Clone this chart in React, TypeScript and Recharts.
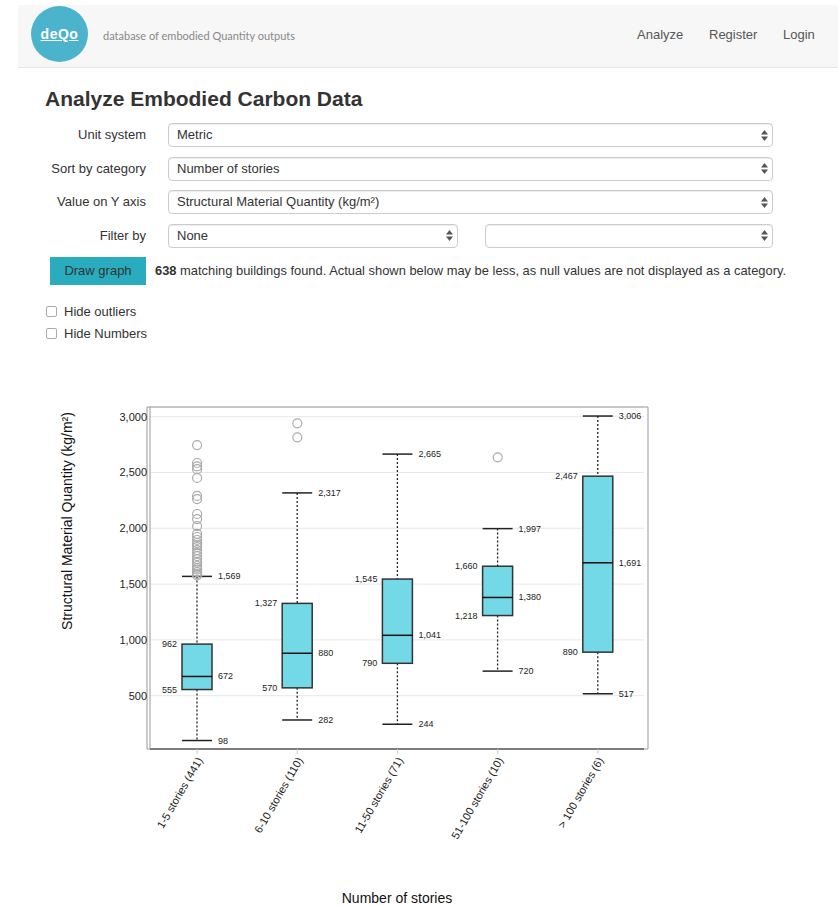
import React from "react";
import {
  Bar,
  CartesianGrid,
  ComposedChart,
  ReferenceArea,
  Scatter,
  XAxis,
  YAxis,
} from "recharts";

const FONT = '"Liberation Sans", Arial, Helvetica, sans-serif';

// box plot stats
const categories = [
  "1-5 stories (441)",
  "6-10 stories (110)",
  "11-50 stories (71)",
  "51-100 stories (10)",
  "> 100 stories (6)",
];
const whiskerLow = [98, 282, 244, 720, 517];
const quartile1 = [555, 570, 790, 1218, 890];
const medians = [672, 880, 1041, 1380, 1691];
const quartile3 = [962, 1327, 1545, 1660, 2467];
const whiskerHigh = [1569, 2317, 2665, 1997, 3006];

const outliers1to5 = [
  2746, 2585, 2555, 2530, 2451, 2290, 2262, 2128, 2083, 2020, 1950, 1922,
  1895, 1868, 1850, 1832, 1805, 1778, 1750, 1724, 1700, 1689, 1662, 1644,
  1630, 1608, 1590, 1578,
];
const outliers6to10 = [2941, 2815];
const outliers51to100 = [2636];

const yTicks = [500, 1000, 1500, 2000, 2500, 3000];
const Y_MIN = 22;
const Y_MAX = 3087;

const boxData = categories.map((name, i) => ({
  name,
  min: whiskerLow[i],
  q1: quartile1[i],
  median: medians[i],
  q3: quartile3[i],
  max: whiskerHigh[i],
}));

const outlierData = [
  ...outliers1to5.map((value) => ({ name: categories[0], value })),
  ...outliers6to10.map((value) => ({ name: categories[1], value })),
  ...outliers51to100.map((value) => ({ name: categories[3], value })),
];

const fmt = (v: number) => v.toLocaleString("en-US");

function BoxShape(props: any) {
  const { x, y, width, height } = props;
  const d = props.payload ?? boxData[props.index];
  const top = Math.min(y, y + height);
  const h = Math.abs(height);
  const py = (v: number) => top + ((d.max - v) / (d.max - d.min)) * h;
  const cx = x + width / 2;
  const right = x + width;
  const lbl = { fontSize: 9, fill: "#222", fontFamily: FONT };
  return (
    <g>
      <line x1={cx} x2={cx} y1={py(d.max)} y2={py(d.q3)} stroke="#222" strokeWidth={1.3} strokeDasharray="2 2" />
      <line x1={cx} x2={cx} y1={py(d.q1)} y2={py(d.min)} stroke="#222" strokeWidth={1.3} strokeDasharray="2 2" />
      <line x1={x} x2={right} y1={py(d.max)} y2={py(d.max)} stroke="#222" strokeWidth={1.5} />
      <line x1={x} x2={right} y1={py(d.min)} y2={py(d.min)} stroke="#222" strokeWidth={1.5} />
      <rect
        x={x}
        y={py(d.q3)}
        width={width}
        height={py(d.q1) - py(d.q3)}
        fill="#74d9e6"
        stroke="#333"
        strokeWidth={1.5}
      />
      <line x1={x} x2={right} y1={py(d.median)} y2={py(d.median)} stroke="#111" strokeWidth={1.5} />
      <text x={right + 6} y={py(d.max)} dy={3} {...lbl}>{fmt(d.max)}</text>
      <text x={right + 6} y={py(d.median)} dy={3} {...lbl}>{fmt(d.median)}</text>
      <text x={right + 6} y={py(d.min)} dy={3} {...lbl}>{fmt(d.min)}</text>
      <text x={x - 5} y={py(d.q3)} dy={3} textAnchor="end" {...lbl}>{fmt(d.q3)}</text>
      <text x={x - 5} y={py(d.q1)} dy={3} textAnchor="end" {...lbl}>{fmt(d.q1)}</text>
    </g>
  );
}

const OutlierDot = (p: any) => (
  <circle cx={p.cx} cy={p.cy} r={4.5} fill="none" stroke="#aaa" strokeWidth={1.2} />
);

const AngledTick = ({ x, y, payload }: any) => (
  <g transform={`translate(${x + 6},${y + 4})`}>
    <text textAnchor="end" transform="rotate(-60)" fontSize={11} fill="#222" fontFamily={FONT}>
      {payload.value}
    </text>
  </g>
);

const XTitle = () => (
  <text x={397} y={903} textAnchor="middle" fontSize={14} fill="#111" fontFamily={FONT}>
    Number of stories
  </text>
);

const YTitle = () => (
  <text
    x={72}
    y={521}
    textAnchor="middle"
    transform="rotate(-90, 72, 521)"
    fontSize={14}
    fill="#111"
    fontFamily={FONT}
  >
    Structural Material Quantity (kg/m²)
  </text>
);

function Txt({ x, y, size = 13, children, style }: any) {
  return (
    <div
      style={{
        position: "absolute",
        left: x,
        top: y - size * 0.6,
        lineHeight: `${size * 1.2}px`,
        fontSize: size,
        whiteSpace: "nowrap",
        ...style,
      }}
    >
      {children}
    </div>
  );
}

function Arrows({ x, y }: any) {
  return (
    <svg width={7} height={11} style={{ position: "absolute", left: x, top: y - 5.5 }}>
      <path d="M0 4.5 L3.5 0 L7 4.5 Z" fill="#555" />
      <path d="M0 6.5 L3.5 11 L7 6.5 Z" fill="#555" />
    </svg>
  );
}

function SelectBox({ left, top, width, text }: any) {
  return (
    <div
      style={{
        position: "absolute",
        left,
        top,
        width,
        height: 24,
        boxSizing: "border-box",
        border: "1px solid #ccc",
        borderRadius: 4,
        background: "#fff",
        boxShadow: "inset 0 1px 1px rgba(0,0,0,0.075)",
      }}
    >
      <div style={{ position: "absolute", left: 8, top: 0, lineHeight: "22px", fontSize: 13 }}>{text}</div>
      <Arrows x={width - 13} y={11} />
    </div>
  );
}

const formRows = [
  { label: "Unit system", value: "Metric", top: 123 },
  { label: "Sort by category", value: "Number of stories", top: 156.5 },
  { label: "Value on Y axis", value: "Structural Material Quantity (kg/m²)", top: 190 },
];

export default function App() {
  return (
    <div
      style={{
        position: "absolute",
        left: 0,
        top: 0,
        width: 838,
        height: 905,
        background: "#fff",
        fontFamily: FONT,
        color: "#333",
        overflow: "hidden",
      }}
    >
      {/* navbar */}
      <div
        style={{
          position: "absolute",
          left: 18,
          top: 5,
          width: 820,
          height: 62,
          background: "#f7f7f7",
          borderBottom: "1px solid #e7e7e7",
        }}
      />
      <div
        style={{
          position: "absolute",
          left: 31,
          top: 6,
          width: 57,
          height: 56,
          borderRadius: "50%",
          background: "#4cb3cc",
          color: "#fff",
          fontWeight: "bold",
          fontSize: 14,
          lineHeight: "56px",
          textAlign: "center",
          textDecoration: "underline",
          letterSpacing: 0.5,
        }}
      >
        deQo
      </div>
      <Txt x={103} y={36} size={11} style={{ fontFamily: "Lato", color: "#888" }}>
        database of embodied Quantity outputs
      </Txt>
      <Txt x={637} y={35} style={{ color: "#555" }}>Analyze</Txt>
      <Txt x={709} y={35} style={{ color: "#555" }}>Register</Txt>
      <Txt x={783} y={35} style={{ color: "#555" }}>Login</Txt>

      {/* form */}
      <Txt x={45} y={99} size={21} style={{ fontWeight: "bold" }}>
        Analyze Embodied Carbon Data
      </Txt>
      {formRows.map((r) => (
        <React.Fragment key={r.label}>
          <Txt x={0} y={r.top + 12} style={{ width: 146, textAlign: "right" }}>{r.label}</Txt>
          <SelectBox left={168} top={r.top} width={605} text={r.value} />
        </React.Fragment>
      ))}
      <Txt x={0} y={235.5} style={{ width: 146, textAlign: "right" }}>Filter by</Txt>
      <SelectBox left={168} top={223.5} width={290} text="None" />
      <SelectBox left={485} top={223.5} width={288} text="" />

      <div
        style={{
          position: "absolute",
          left: 50,
          top: 257,
          width: 96,
          height: 28,
          background: "#2aacbf",
          fontSize: 13,
          lineHeight: "28px",
          textAlign: "center",
          color: "#333",
        }}
      >
        Draw graph
      </div>
      <Txt x={155} y={271} size={12.9}>
        <b>638</b> matching buildings found. Actual shown below may be less, as null values are not displayed as a category.
      </Txt>

      {["Hide outliers", "Hide Numbers"].map((t, i) => (
        <React.Fragment key={t}>
          <div
            style={{
              position: "absolute",
              left: 46,
              top: 306 + i * 22,
              width: 11,
              height: 11,
              boxSizing: "border-box",
              border: "1px solid #aaa",
              borderRadius: 2,
              background: "#fff",
            }}
          />
          <Txt x={64} y={311.5 + i * 22}>{t}</Txt>
        </React.Fragment>
      ))}

      {/* chart */}
      <div style={{ position: "absolute", left: 0, top: 0 }}>
        <ComposedChart
          width={700}
          height={905}
          data={boxData}
          margin={{ top: 407, right: 56, bottom: 6, left: 110 }}
        >
          <CartesianGrid vertical={false} stroke="#e9e9e9" />
          <ReferenceArea y1={Y_MIN} y2={Y_MAX} fill="none" stroke="#999" strokeWidth={1} />
          <XAxis
            dataKey="name"
            type="category"
            allowDuplicatedCategory={false}
            padding={{ left: -3, right: -4 }}
            height={150}
            axisLine={{ stroke: "#333", strokeWidth: 1.2 }}
            tickLine={{ stroke: "#ccc" }}
            tickSize={5}
            tick={<AngledTick />}
            interval={0}
            label={XTitle}
          />
          <YAxis
            type="number"
            domain={[Y_MIN, Y_MAX]}
            allowDataOverflow
            ticks={yTicks}
            width={40}
            tickLine={false}
            tickSize={3}
            tickMargin={0}
            axisLine={{ stroke: "#999" }}
            tick={{ fontSize: 11, fill: "#222", fontFamily: FONT }}
            tickFormatter={fmt}
            label={YTitle}
          />
          <Bar
            dataKey={(d: any) => [d.min, d.max]}
            barSize={30}
            shape={<BoxShape />}
            isAnimationActive={false}
          />
          <Scatter data={outlierData} dataKey="value" shape={<OutlierDot />} isAnimationActive={false} />
        </ComposedChart>
      </div>
    </div>
  );
}
